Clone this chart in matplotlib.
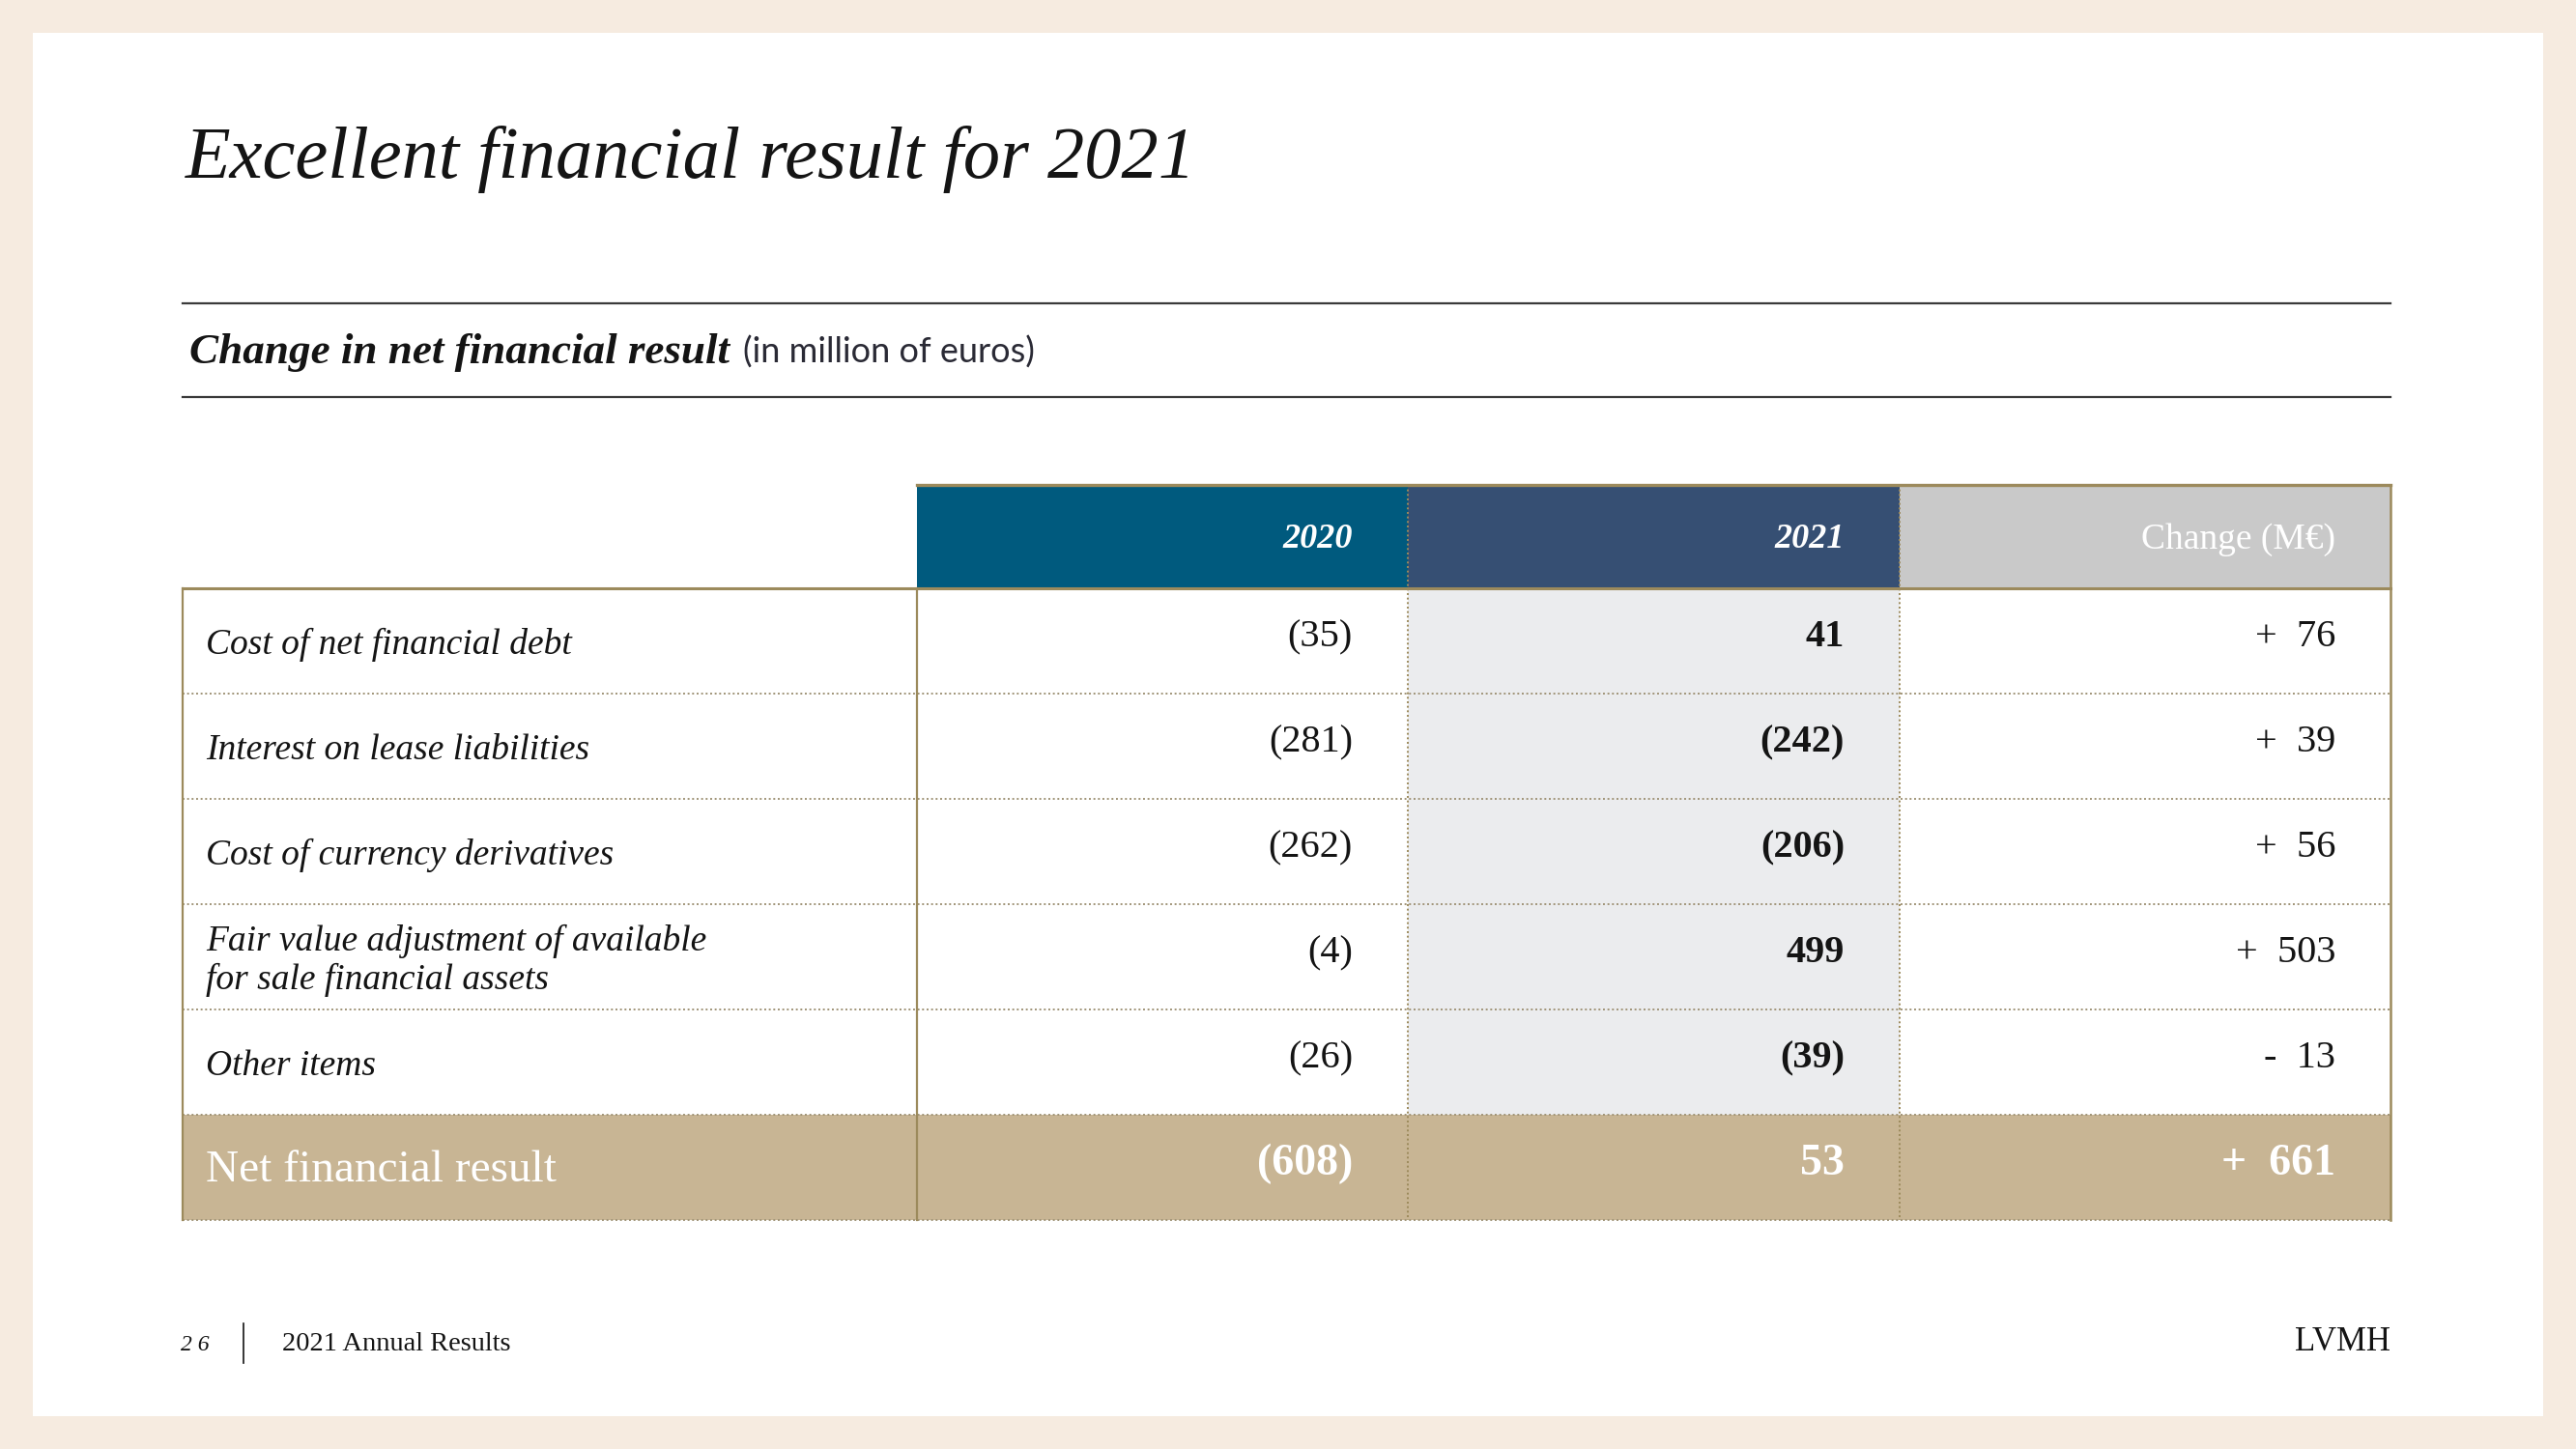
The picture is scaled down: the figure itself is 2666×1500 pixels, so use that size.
import matplotlib
matplotlib.use("Agg")
import matplotlib.pyplot as plt
from matplotlib.patches import Rectangle


# ---- data ----
row_labels = [
    "Cost of net financial debt",
    "Interest on lease liabilities",
    "Cost of currency derivatives",
    "Fair value adjustment of available\nfor sale financial assets",
    "Other items",
]
values_2020 = [-35, -281, -262, -4, -26]
values_2021 = [41, -242, -206, 499, -39]
changes = [76, 39, 56, 503, -13]

total_label = "Net financial result"
total_2020 = -608
total_2021 = 53
total_change = 661

column_titles = ["2020", "2021", "Change (M€)"]

title = "Excellent financial result for 2021"
subtitle = "Change in net financial result"
subtitle_unit = "(in million of euros)"
page_number = "2 6"
footer_text = "2021 Annual Results"
brand = "LVMH"

# ---- style ----
BEIGE = "#F6EBE0"
TEAL = "#005A7E"
NAVY = "#364F73"
LIGHT_GREY = "#C9C9C9"
PALE = "#EBECEE"
TAN = "#C8B594"
GOLD = "#9C8A5C"
DOT = "#A09478"
INK = "#141414"
SERIF = "Liberation Serif"

W, H = 2666, 1500
COL_EDGES = [189, 949, 1457, 1966, 2474]
HEADER_TOP = 502
BODY_TOP = 609
ROW_H = 109
PAD = 57


def fmt_value(v):
    if v < 0:
        return f"({abs(v)})"
    return f"{v}"


def fmt_change(v):
    if v < 0:
        return f"-  {abs(v)}"
    return f"+  {v}"


fig = plt.figure(figsize=(W / 100, H / 100), dpi=100, facecolor=BEIGE)
ax = fig.add_axes([0, 0, 1, 1])
ax.set_xlim(0, W)
ax.set_ylim(H, 0)
ax.axis("off")

# white slide
ax.add_patch(Rectangle((34, 34), 2598, 1432, facecolor="white", edgecolor="none"))

# title block
ax.text(192, 184, title, fontsize=55, family=SERIF, style="italic",
        color=INK, va="baseline", ha="left")

ax.plot([189, 2474], [314, 314], color="#3a3a3a", lw=1.6)
ax.plot([189, 2474], [411, 411], color="#3a3a3a", lw=1.6)

sub = ax.text(196, 376, subtitle, fontsize=32.5, family=SERIF, style="italic",
              weight="bold", color=INK, va="baseline", ha="left")
renderer = fig.canvas.get_renderer()
sub_end = sub.get_window_extent(renderer).x1
ax.text(sub_end + 14, 376, subtitle_unit, fontsize=26, family="Lato",
        color="#2a2a35", va="baseline", ha="left")

# ---- table backgrounds ----
n_rows = len(row_labels)
header_colors = [TEAL, NAVY, LIGHT_GREY]
for i, c in enumerate(header_colors):
    x0, x1 = COL_EDGES[i + 1], COL_EDGES[i + 2]
    ax.add_patch(Rectangle((x0, HEADER_TOP), x1 - x0, BODY_TOP - HEADER_TOP,
                           facecolor=c, edgecolor="none"))

# shaded 2021 column
ax.add_patch(Rectangle((COL_EDGES[2], BODY_TOP), COL_EDGES[3] - COL_EDGES[2],
                       n_rows * ROW_H, facecolor=PALE, edgecolor="none"))

total_top = BODY_TOP + n_rows * ROW_H
table_bottom = total_top + ROW_H
ax.add_patch(Rectangle((COL_EDGES[0], total_top), COL_EDGES[4] - COL_EDGES[0],
                       ROW_H, facecolor=TAN, edgecolor="none"))

# ---- grid lines ----
dotted = (0, (1, 1.4))
for r in range(1, n_rows + 2):
    y = BODY_TOP + r * ROW_H
    ax.plot([COL_EDGES[0], COL_EDGES[4]], [y, y], color=DOT, lw=1.4,
            linestyle=dotted)

for x in (COL_EDGES[2], COL_EDGES[3]):
    ax.plot([x, x], [HEADER_TOP, table_bottom], color=GOLD, lw=1.4,
            linestyle=dotted)

ax.plot([COL_EDGES[1], COL_EDGES[4]], [HEADER_TOP, HEADER_TOP], color=GOLD, lw=2.4)
ax.plot([COL_EDGES[0], COL_EDGES[4]], [BODY_TOP, BODY_TOP], color=GOLD, lw=2.2)
ax.plot([COL_EDGES[0], COL_EDGES[0]], [BODY_TOP, table_bottom], color=GOLD, lw=1.6)
ax.plot([COL_EDGES[1], COL_EDGES[1]], [BODY_TOP, table_bottom], color=GOLD, lw=1.6)
ax.plot([COL_EDGES[4], COL_EDGES[4]], [HEADER_TOP, table_bottom], color=GOLD, lw=1.8)

# ---- header text ----
header_mid = (HEADER_TOP + BODY_TOP) / 2
for i, t in enumerate(column_titles):
    xr = COL_EDGES[i + 2] - PAD
    if i < 2:
        ax.text(xr, header_mid + 3, t, fontsize=26, family=SERIF, style="italic",
                weight="bold", color="white", ha="right", va="center")
    else:
        ax.text(xr, header_mid + 3, t, fontsize=27, family=SERIF,
                color="white", ha="right", va="center")

# ---- body rows ----
for r in range(n_rows):
    mid = BODY_TOP + r * ROW_H + ROW_H / 2
    ax.text(COL_EDGES[0] + 24, mid + 4, row_labels[r], fontsize=27,
            family=SERIF, style="italic", color=INK, ha="left", va="center",
            linespacing=1.2)
    ax.text(COL_EDGES[2] - PAD, mid - 4, fmt_value(values_2020[r]),
            fontsize=29, family=SERIF, color=INK, ha="right", va="center")
    ax.text(COL_EDGES[3] - PAD, mid - 4, fmt_value(values_2021[r]),
            fontsize=29, family=SERIF, weight="bold", color=INK,
            ha="right", va="center")
    ax.text(COL_EDGES[4] - PAD, mid - 4, fmt_change(changes[r]),
            fontsize=29, family=SERIF, color=INK, ha="right", va="center")

# ---- total row ----
tmid = total_top + ROW_H / 2
ax.text(COL_EDGES[0] + 24, tmid + 3, total_label, fontsize=34, family=SERIF,
        color="white", ha="left", va="center")
ax.text(COL_EDGES[2] - PAD, tmid - 4, fmt_value(total_2020), fontsize=33,
        family=SERIF, weight="bold", color="white", ha="right", va="center")
ax.text(COL_EDGES[3] - PAD, tmid - 4, fmt_value(total_2021), fontsize=33,
        family=SERIF, weight="bold", color="white", ha="right", va="center")
ax.text(COL_EDGES[4] - PAD, tmid - 4, fmt_change(total_change), fontsize=33,
        family=SERIF, weight="bold", color="white", ha="right", va="center")

# ---- footer ----
ax.text(187, 1398, page_number, fontsize=17, family=SERIF, style="italic",
        color=INK, ha="left", va="baseline")
ax.plot([252, 252], [1370, 1411], color=INK, lw=1.2)
ax.text(292, 1398, footer_text, fontsize=20.5, family=SERIF, color=INK,
        ha="left", va="baseline")
ax.text(2474, 1398, brand, fontsize=25, family=SERIF, color=INK,
        ha="right", va="baseline")

fig.savefig("out.png", dpi=100, facecolor=BEIGE)
